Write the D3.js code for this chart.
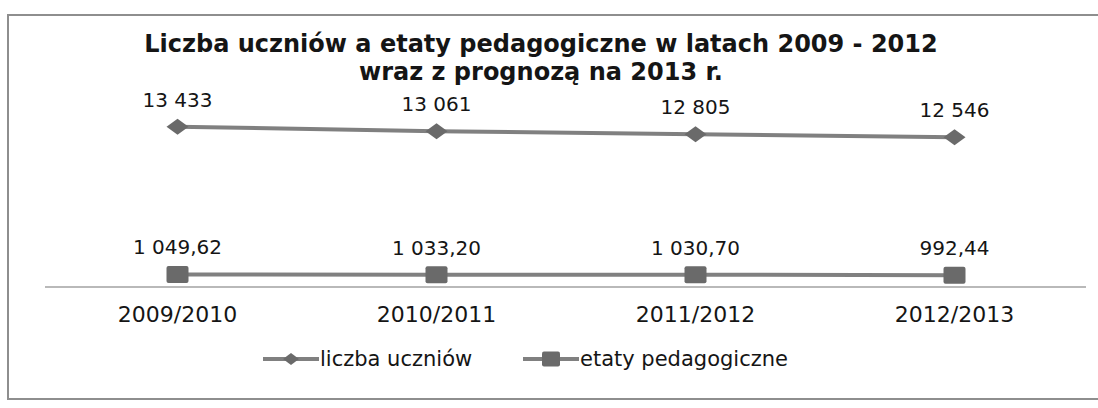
<!DOCTYPE html>
<html>
<head>
<meta charset="utf-8">
<script src="https://cdn.jsdelivr.net/npm/d3@7"></script>
<style>
  html, body { margin: 0; padding: 0; background: #fff; overflow: hidden; }
  text { font-family: "DejaVu Sans", sans-serif; fill: #151515; }
</style>
</head>
<body>
<div id="chart"></div>
<script>
'use strict';

var width = 1098;
var height = 408;

// data
var categories = ['2009/2010', '2010/2011', '2011/2012', '2012/2013'];
var uczniowie = [13433, 13061, 12805, 12546];
var etaty = [1049.62, 1033.20, 1030.70, 992.44];
var uczniowieLabels = ['13 433', '13 061', '12 805', '12 546'];
var etatyLabels = ['1 049,62', '1 033,20', '1 030,70', '992,44'];
var seriesNames = ['liczba uczniów', 'etaty pedagogiczne'];
var titleLines = ['Liczba uczniów a etaty pedagogiczne w latach 2009 - 2012', 'wraz z prognozą na 2013 r.'];

var lineColor = '#808080';
var markerColor = '#6a6a6a';

var svg = d3.select('#chart').append('svg')
  .attr('width', width)
  .attr('height', height)
  .style('display', 'block');

// outer frame of the scan: left, top and bottom edges only (right side is cut off)
svg.append('path')
  .attr('d', 'M' + (width + 5) + ',15H8V399H' + (width + 5))
  .attr('fill', 'none')
  .attr('stroke', '#8e8e8e')
  .attr('stroke-width', 2);

// title
svg.selectAll('.title').data(titleLines).enter().append('text')
  .attr('class', 'title')
  .attr('x', 541)
  .attr('y', function(d, i){ return 52 + i * 28; })
  .attr('text-anchor', 'middle')
  .style('font-weight', 'bold')
  .style('font-size', '24px')
  .text(function(d){ return d; });

var xScale = d3.scalePoint()
  .domain(categories)
  .range([48, 1084])
  .padding(0.5);

// one value axis for both series, starting at zero
var yScale = d3.scaleLinear()
  .domain([0, 14000])
  .range([287, 120]);

// category axis line
svg.append('line')
  .attr('x1', 45).attr('x2', 1086)
  .attr('y1', yScale(0)).attr('y2', yScale(0))
  .attr('stroke', '#a2a2a2')
  .attr('stroke-width', 1.5);

svg.selectAll('.cat').data(categories).enter().append('text')
  .attr('class', 'cat')
  .attr('x', function(d){ return xScale(d); })
  .attr('y', 322)
  .attr('text-anchor', 'middle')
  .style('font-size', '22px')
  .text(function(d){ return d; });

var line = d3.line()
  .x(function(d, i){ return xScale(categories[i]); })
  .y(function(d){ return yScale(d); });

function diamond(g, cx, cy, w, h){
  g.append('path')
    .attr('d', 'M' + (cx - w/2) + ',' + cy + 'L' + cx + ',' + (cy - h/2) +
      'L' + (cx + w/2) + ',' + cy + 'L' + cx + ',' + (cy + h/2) + 'Z')
    .attr('fill', markerColor);
}

function square(g, cx, cy, w, h){
  g.append('rect')
    .attr('x', cx - w/2).attr('y', cy - h/2)
    .attr('width', w).attr('height', h)
    .attr('rx', 2)
    .attr('fill', markerColor);
}

function drawSeries(values, labels, marker){
  var g = svg.append('g');
  g.append('path')
    .datum(values)
    .attr('d', line)
    .attr('fill', 'none')
    .attr('stroke', lineColor)
    .attr('stroke-width', 4);
  values.forEach(function(v, i){
    var cx = xScale(categories[i]);
    var cy = yScale(v);
    if(marker == 'diamond'){ diamond(g, cx, cy, 22, 16); }
    else{ square(g, cx, cy, 22, 17); }
  });
  g.selectAll('.lbl').data(values).enter().append('text')
    .attr('class', 'lbl')
    .attr('x', function(d, i){ return xScale(categories[i]); })
    .attr('y', function(d){ return yScale(d) - 20; })
    .attr('text-anchor', 'middle')
    .style('font-size', '20px')
    .text(function(d, i){ return labels[i]; });
}

drawSeries(uczniowie, uczniowieLabels, 'diamond');
drawSeries(etaty, etatyLabels, 'square');

// legend
var legendY = 359;
var legendX = [263, 523];
seriesNames.forEach(function(name, i){
  var g = svg.append('g');
  var x0 = legendX[i];
  g.append('line')
    .attr('x1', x0).attr('x2', x0 + 56)
    .attr('y1', legendY).attr('y2', legendY)
    .attr('stroke', lineColor)
    .attr('stroke-width', 4);
  if(i == 0){ diamond(g, x0 + 28, legendY, 16, 12); }
  else{ square(g, x0 + 28, legendY, 18, 15); }
  g.append('text')
    .attr('x', x0 + 57)
    .attr('y', legendY + 7)
    .style('font-size', '21px')
    .text(name);
});
</script>
</body>
</html>
